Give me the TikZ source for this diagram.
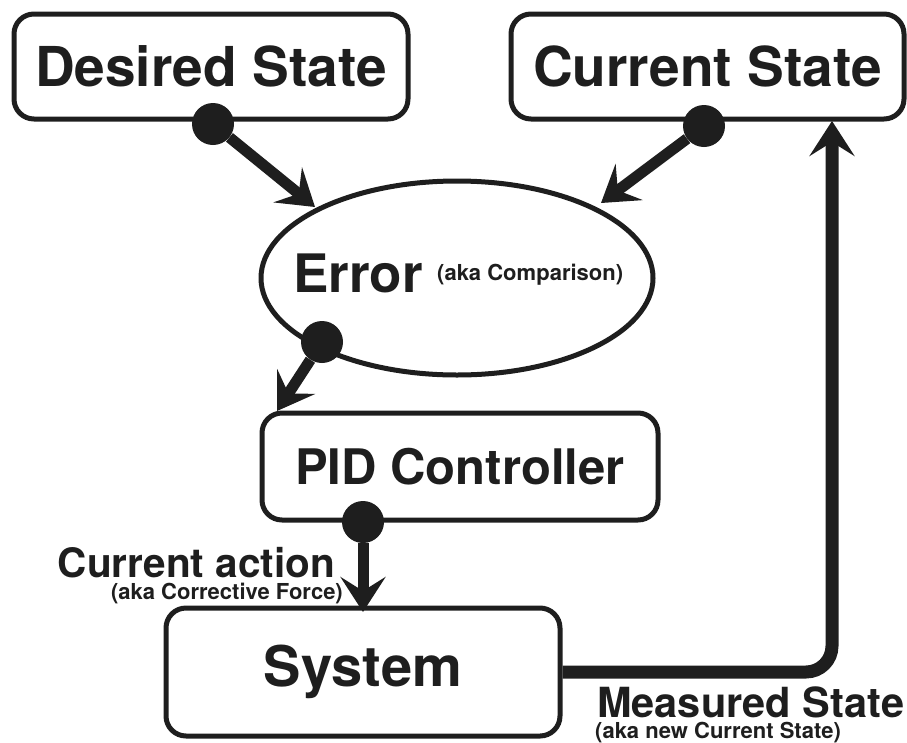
\documentclass[tikz,border=0pt]{standalone}
\usepackage{fontspec}
\setmainfont{TeX Gyre Heros}
\usetikzlibrary{arrows.meta,shapes.geometric}
\definecolor{ink}{RGB}{30,30,30}
\begin{document}
\begin{tikzpicture}[x=1pt,y=-1pt,
  box/.style={draw=ink, line width=5pt, rounded corners=20pt, inner sep=0pt, text=ink,
    font=\bfseries\fontsize{55}{62}\selectfont},
  blob/.style={ellipse, draw=ink, line width=5pt, inner sep=0pt},
  dot/.style={circle, fill=ink, minimum size=42pt, inner sep=0pt},
  link/.style={draw=ink, line width=11pt, -{Stealth[length=35pt,width=45pt,inset=14pt]}},
  feedback/.style={link, line width=13pt, rounded corners=26pt},
  bigtext/.style={inner sep=0pt, text=ink, font=\bfseries\fontsize{53}{60}\selectfont},
  midtext/.style={inner sep=0pt, text depth=0pt, text=ink, font=\bfseries\fontsize{41.5}{48}\selectfont},
  smalltext/.style={inner sep=0pt, text height=16pt, text=ink, font=\bfseries\fontsize{22}{26}\selectfont}]
\useasboundingbox (0,0) rectangle (907,742);

% boxes
\node[box, minimum width=394pt, minimum height=105pt] (des) at (211,66.5) {Desired State};
\node[box, minimum width=393pt, minimum height=105pt] (cur) at (707.5,66.5) {Current State};
\node[box, minimum width=396pt, minimum height=107pt, font=\bfseries\fontsize{49}{56}\selectfont] (pid) at (460,466.5) {PID Controller};
\node[box, minimum width=394pt, minimum height=128pt, font=\bfseries\fontsize{56}{62}\selectfont] (sys) at (363,672) {System};

% comparison ellipse
\node[blob, minimum width=392pt, minimum height=194pt] (err) at (457,278) {};
\node[bigtext, anchor=base west] (errtxt) at (293,292) {Error};
\node[smalltext, anchor=base west] (errsub) at (437,280) {(aka Comparison)};

% output dots
\node[dot] (d1) at (213,124) {};
\node[dot] (d2) at (704,126) {};
\node[dot] (d3) at (322,342) {};
\node[dot] (d4) at (363,522) {};

% arrow ends
\coordinate (t1) at (315,207);
\coordinate (t2) at (601,203);
\coordinate (t3) at (277,411);
\coordinate (t4) at (363,612);
\coordinate (fbtop) at (832,121);

\draw[link] (d1) -- (t1);
\draw[link] (d2) -- (t2);
\draw[link] (d3) -- (t3);
\draw[link] (d4) -- (t4);
\draw[feedback] (sys.east) -| (fbtop);

% labels
\node[midtext, anchor=base east, font=\bfseries\fontsize{40.5}{47}\selectfont] (act) at (335,577) {Current action};
\node[smalltext, anchor=base east] (actsub) at (343,599) {(aka Corrective Force)};
\node[midtext, anchor=base west] (meas) at (597,717) {Measured State};
\node[smalltext, anchor=base west] (meassub) at (595,738) {(aka new Current State)};
\end{tikzpicture}
\end{document}
